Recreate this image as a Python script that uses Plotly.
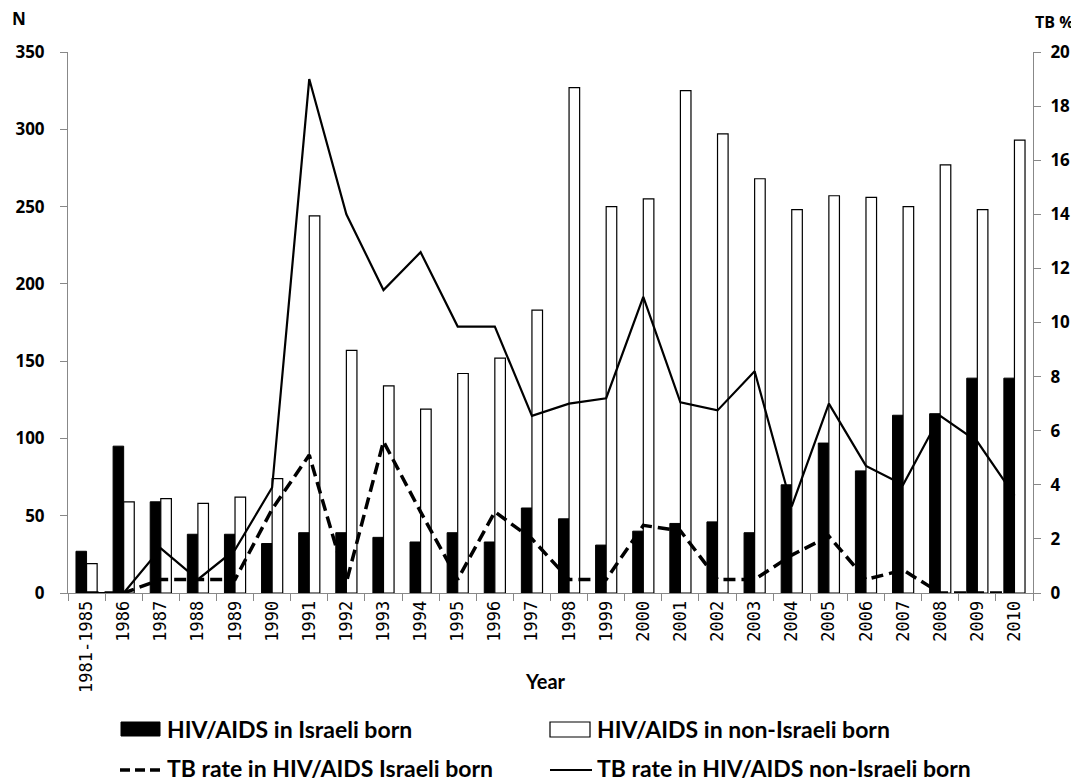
import plotly.graph_objects as go

years = ["1981-1985", "1986", "1987", "1988", "1989", "1990", "1991", "1992", "1993",
         "1994", "1995", "1996", "1997", "1998", "1999", "2000", "2001", "2002", "2003",
         "2004", "2005", "2006", "2007", "2008", "2009", "2010"]
hiv_israeli = [27, 95, 59, 38, 38, 32, 39, 39, 36, 33, 39, 33, 55, 48, 31, 40, 45, 46, 39,
               70, 97, 79, 115, 116, 139, 139]
hiv_non_israeli = [19, 59, 61, 58, 62, 74, 244, 157, 134, 119, 142, 152, 183, 327, 250, 255,
                   325, 297, 268, 248, 257, 256, 250, 277, 248, 293]
tb_israeli = [0, 0, 0.5, 0.5, 0.5, 3.1, 5.1, 0.4, 5.6, 3.0, 0.5, 3.0, 2.0, 0.5, 0.5, 2.5,
              2.3, 0.5, 0.5, 1.4, 2.1, 0.5, 0.85, 0, 0, 0]
tb_non_israeli = [0, 0, 1.65, 0.5, 1.6, 3.9, 19.0, 14.0, 11.2, 12.6, 9.85, 9.85, 6.55, 7.0,
                  7.2, 10.95, 7.05, 6.75, 8.2, 3.2, 7.0, 4.7, 4.0, 6.55, 5.6, 3.6]
legend_labels = ["HIV/AIDS in Israeli born", "HIV/AIDS in non-Israeli born",
                 "TB rate in HIV/AIDS Israeli born", "TB rate in HIV/AIDS non-Israeli born"]

# page offset (browser body margin) compensation
OFF = 8
W, H = 1079 - OFF, 782 - OFF
# plot area in screenshot pixels: x 68..1033, y 52..593
L = 68 - OFF
T = 52 - OFF
R = W - (1033 - OFF)
B = H - (593 - OFF)
PW, PH = W - L - R, H - T - B


def px(x):
    return (x - OFF - L) / PW


def py(y):
    return (H - B - (y - OFF)) / PH


tick_font = dict(family="Open Sans", size=17, color="black")
legend_font = dict(family="Lato", size=23, color="black")
DASH = "10px,5px"

fig = go.Figure()
fig.add_trace(go.Bar(x=years, y=hiv_israeli, name=legend_labels[0],
                     marker=dict(color="black", line=dict(color="black", width=1))))
fig.add_trace(go.Bar(x=years, y=hiv_non_israeli, name=legend_labels[1],
                     marker=dict(color="white", line=dict(color="black", width=1.2))))
fig.add_trace(go.Scatter(x=years, y=tb_israeli, name=legend_labels[2],
                         yaxis="y2", mode="lines",
                         line=dict(color="black", width=3.5, dash="12px,6px")))
fig.add_trace(go.Scatter(x=years, y=tb_non_israeli, name=legend_labels[3],
                         yaxis="y2", mode="lines",
                         line=dict(color="black", width=2.2)))

# legend drawn as shapes + text (two columns, two rows)
shapes = [
    dict(type="rect", xref="paper", yref="paper", x0=px(121), x1=px(160), y0=py(736), y1=py(722),
         fillcolor="black", line=dict(color="black", width=1)),
    dict(type="rect", xref="paper", yref="paper", x0=px(550), x1=px(590), y0=py(737), y1=py(722),
         fillcolor="white", line=dict(color="black", width=1.2)),
    dict(type="line", xref="paper", yref="paper", x0=px(120), x1=px(160), y0=py(770), y1=py(770),
         line=dict(color="black", width=3.5, dash=DASH)),
    dict(type="line", xref="paper", yref="paper", x0=px(550), x1=px(592), y0=py(770), y1=py(770),
         line=dict(color="black", width=2)),
]
legend_pos = [(165, 729), (595, 729), (165, 768), (595, 768)]
annotations = [
    dict(text="<b>N</b>", xref="paper", yref="paper", x=px(10), y=py(19),
         xanchor="left", yanchor="middle", showarrow=False,
         font=dict(family="Open Sans", size=17, color="black")),
    dict(text="<b>TB %</b>", xref="paper", yref="paper", x=px(1076), y=py(22),
         xanchor="right", yanchor="middle", showarrow=False,
         font=dict(family="Open Sans", size=16, color="black")),
    dict(text="<b>Year</b>", xref="paper", yref="paper", x=px(545), y=py(681),
         xanchor="center", yanchor="middle", showarrow=False,
         font=dict(family="Lato", size=20, color="black")),
]
for lab, (lx, ly) in zip(legend_labels, legend_pos):
    annotations.append(dict(text="<b>" + lab + "</b>", xref="paper", yref="paper",
                            x=px(lx), y=py(ly), xanchor="left", yanchor="middle",
                            showarrow=False, font=legend_font))

fig.update_layout(
    width=W, height=H,
    margin=dict(l=L, r=R, t=T, b=B, autoexpand=False),
    paper_bgcolor="white", plot_bgcolor="white",
    barmode="group", bargap=0.43, bargroupgap=0,
    showlegend=False,
    xaxis=dict(type="category", tickangle=-90,
               tickfont=dict(family="DejaVu Sans Mono", size=17, color="black"),
               showline=True, linecolor="#888888", linewidth=1,
               ticks="outside", tickcolor="#888888", ticklen=7, tickson="boundaries",
               showgrid=False),
    yaxis=dict(range=[0, 350], dtick=50, tickfont=tick_font, showgrid=False,
               showline=True, linecolor="#888888", linewidth=1,
               ticks="outside", tickcolor="#888888", ticklen=7, ticklabelstandoff=12,
               tickprefix="<b>", ticksuffix="</b>", zeroline=False),
    yaxis2=dict(range=[0, 20], dtick=2, overlaying="y", side="right", tickfont=tick_font,
                showgrid=False, showline=True, linecolor="#888888", linewidth=1,
                ticks="outside", tickcolor="#888888", ticklen=7, ticklabelstandoff=6,
                tickprefix="<b>", ticksuffix="</b>", zeroline=False),
    shapes=shapes,
    annotations=annotations,
)

fig.write_html("out.html")
